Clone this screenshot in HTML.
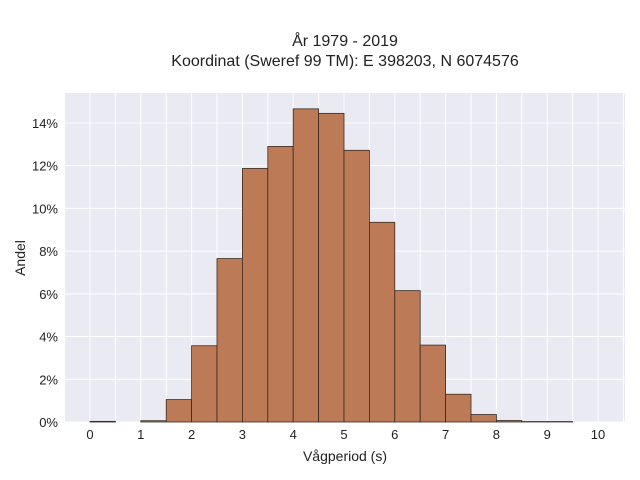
<!DOCTYPE html>
<html><head><meta charset="utf-8"><style>
body{margin:0;background:#fff;}
svg{display:block;font-family:"Liberation Sans",sans-serif;}
</style></head><body>
<svg id="chart" width="640" height="480">
<text x="345" y="46" text-anchor="middle" font-size="16" fill="#222">År 1979 - 2019</text>
<text x="345" y="66" text-anchor="middle" font-size="16" fill="#222">Koordinat (Sweref 99 TM): E 398203, N 6074576</text>
<rect x="64" y="93" width="561" height="329" fill="#eaeaf2"/>
<g id="grid"></g>
<g id="bars"></g>
<g id="ticks"></g>
<text x="345" y="461" text-anchor="middle" font-size="14" fill="#222">Vågperiod (s)</text>
<text x="25" y="258" text-anchor="middle" font-size="14" fill="#222" transform="rotate(-90 25 258)">Andel</text>
</svg>
<script>
const binStarts=[0,0.5,1,1.5,2,2.5,3,3.5,4,4.5,5,5.5,6,6.5,7,7.5,8,8.5,9,9.5];
const shares=[0.03,0,0.06,1.05,3.57,7.65,11.87,12.9,14.66,14.45,12.72,9.35,6.15,3.6,1.3,0.35,0.07,0.02,0.02,0];
const binWidth=0.5;
const xTicks=[0,1,2,3,4,5,6,7,8,9,10];
const yTicks=[0,2,4,6,8,10,12,14];
const ns='http://www.w3.org/2000/svg';
const X=v=>90+v*50.8;
const Y=v=>422-v*21.36;
const grid=document.getElementById('grid'),bars=document.getElementById('bars'),ticks=document.getElementById('ticks');
function mk(tag,attrs,parent){const e=document.createElementNS(ns,tag);for(const k in attrs)e.setAttribute(k,attrs[k]);parent.appendChild(e);return e;}
for(let v=-0.5;v<=10.5;v+=0.5){
  const l=mk('line',{x1:X(v),x2:X(v),y1:93,y2:422,stroke:'#fff','stroke-width':1},grid);
  
  
}
yTicks.forEach(t=>{
  const l=mk('line',{x1:64,x2:625,y1:Y(t),y2:Y(t),stroke:'#fff','stroke-width':1},grid);
  
  
  const tx=mk('text',{x:58,y:Y(t)+5,'text-anchor':'end','font-size':13,fill:'#222'},ticks);
  tx.textContent=t+'%';
  
  
});
xTicks.forEach(t=>{
  const tx=mk('text',{x:X(t),y:439,'text-anchor':'middle','font-size':13,fill:'#222'},ticks);
  tx.textContent=t;
  
  
});
binStarts.forEach((s,i)=>{
  if(shares[i]<=0)return;
  const r=mk('rect',{x:X(s),y:Y(shares[i]),width:X(s+binWidth)-X(s),height:Y(0)-Y(shares[i]),fill:'#bd7a56',stroke:'#3a2a20','stroke-width':0.8},bars);
  
  
});
</script>
</body></html>
